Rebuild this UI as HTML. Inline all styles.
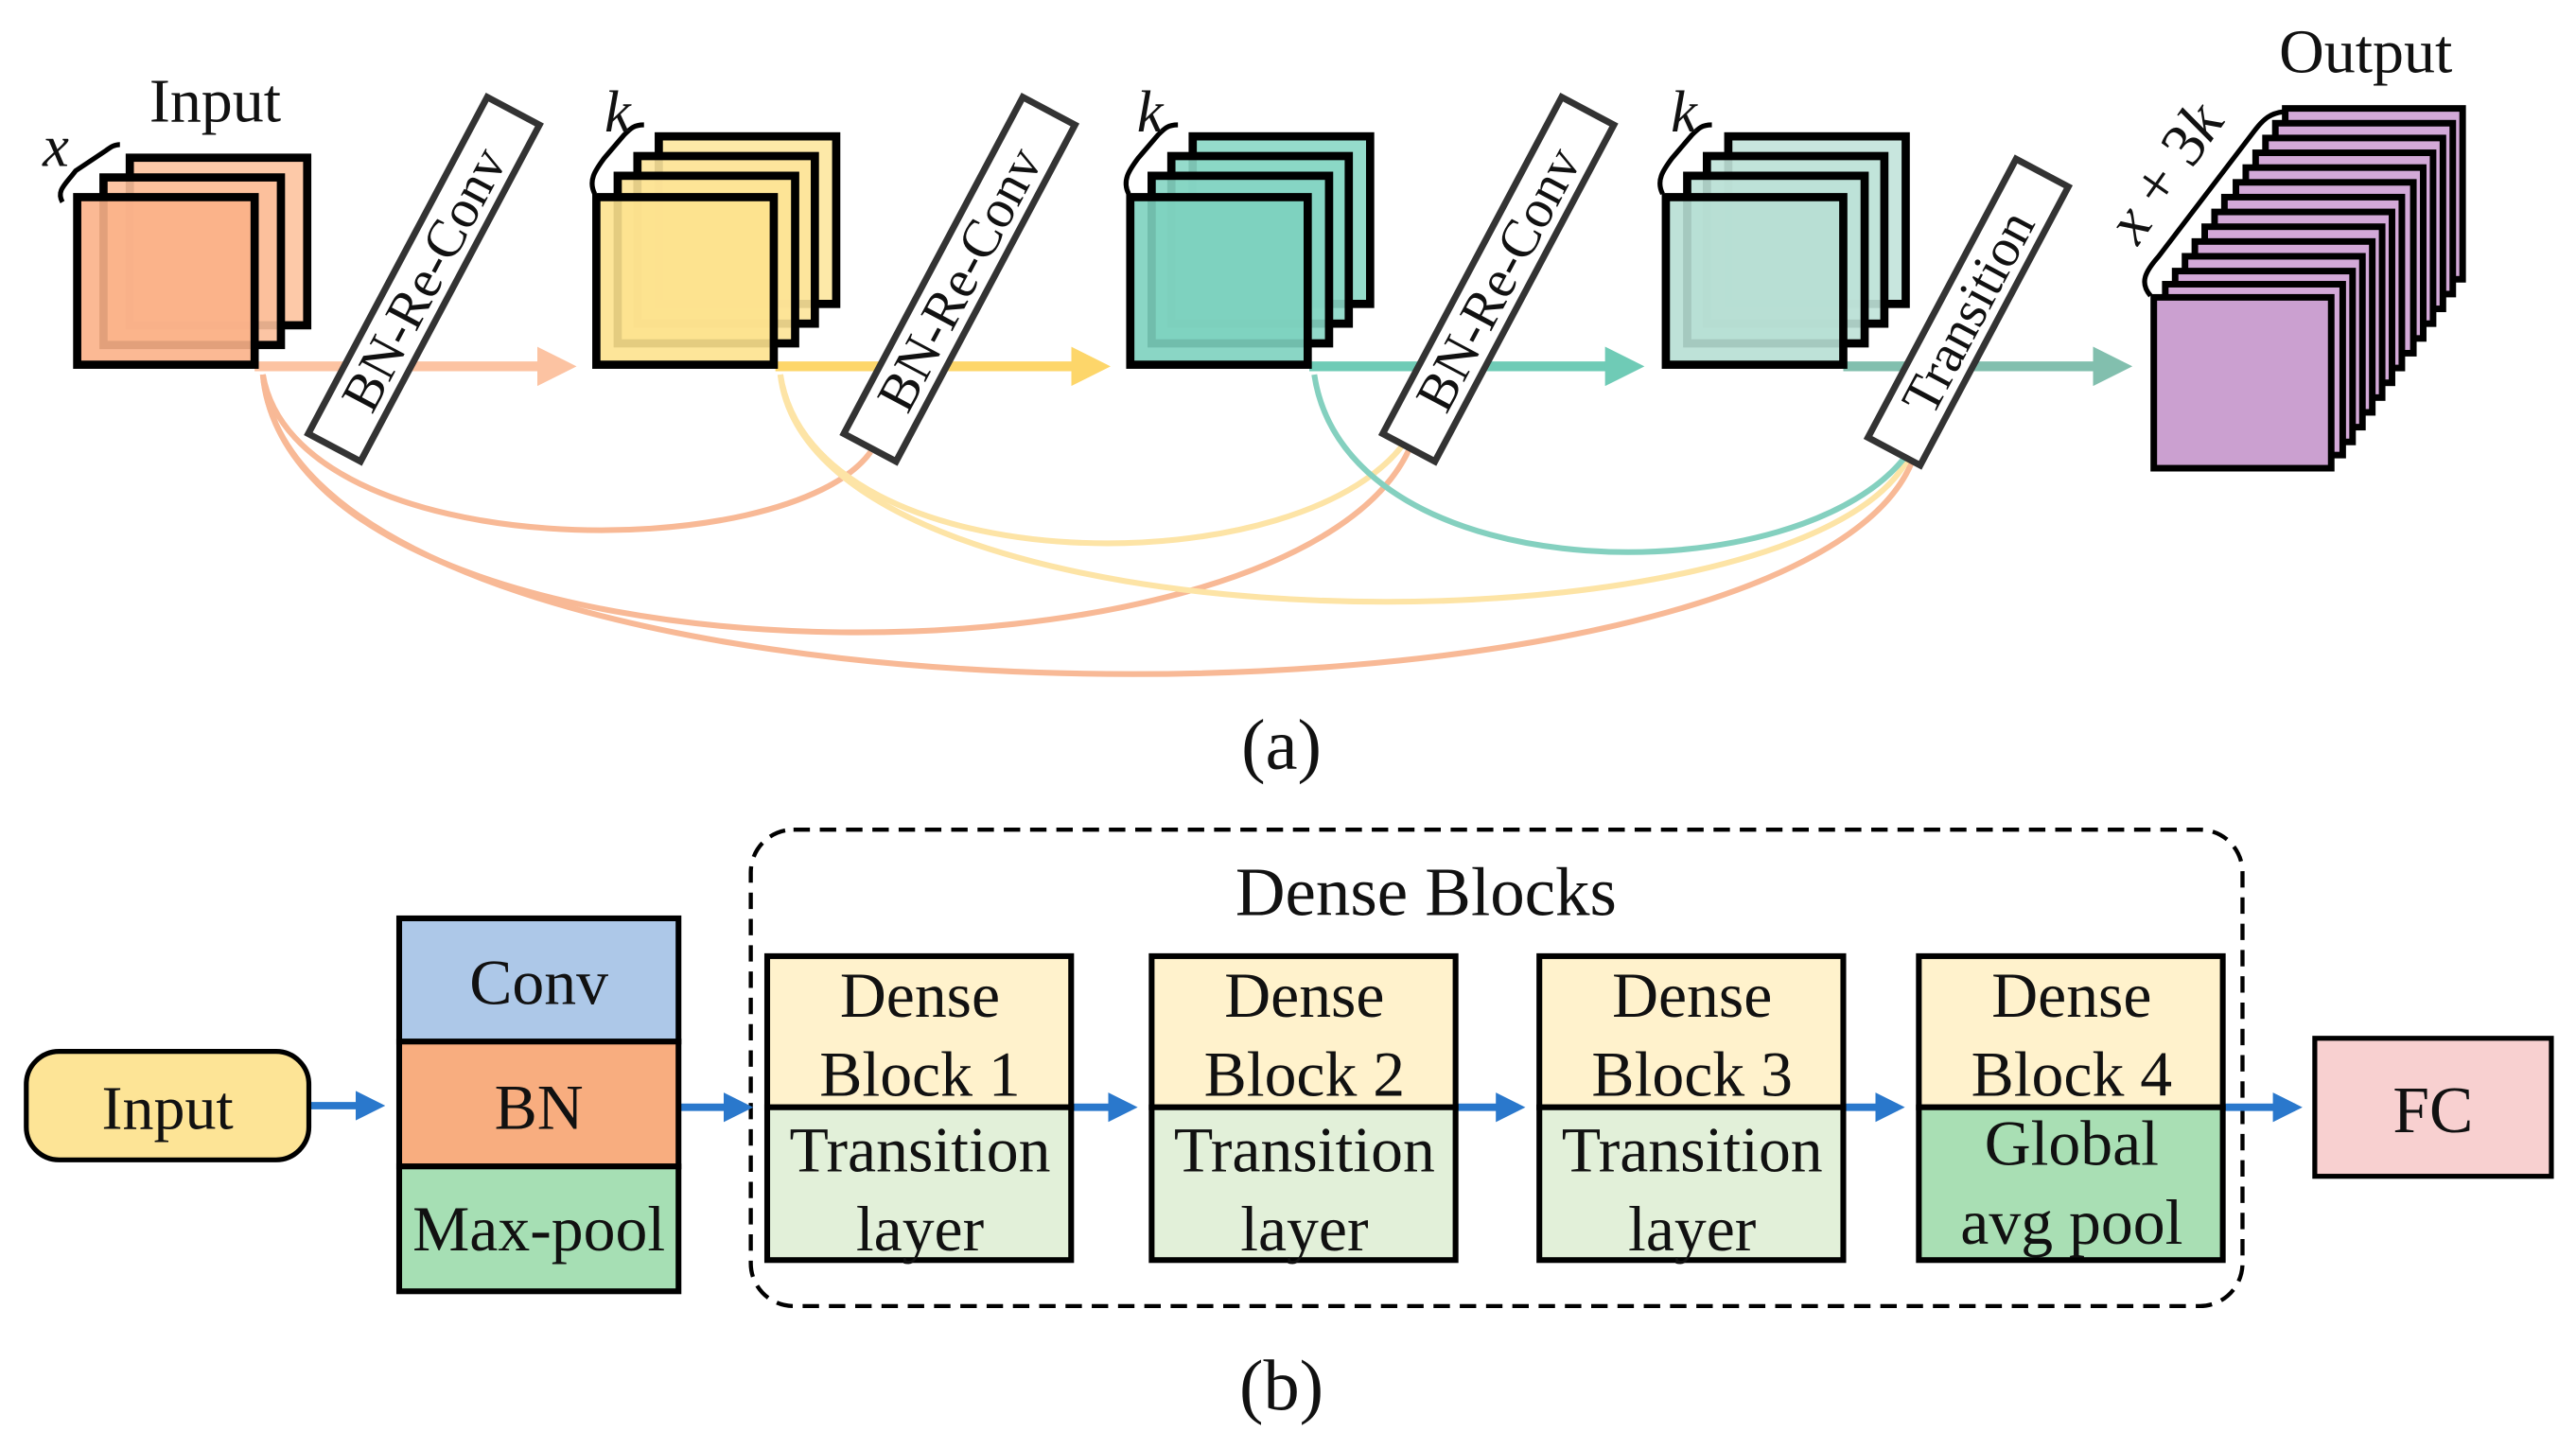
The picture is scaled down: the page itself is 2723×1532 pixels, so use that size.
<!DOCTYPE html>
<html><head><meta charset="utf-8"><style>html,body{margin:0;padding:0;background:#fff;}svg{display:block;}text{font-family:"Liberation Serif",serif;fill:#111;}</style></head>
<body>
<svg width="2723" height="1532" viewBox="0 0 1568 882" preserveAspectRatio="none" xmlns="http://www.w3.org/2000/svg">
<defs>
<marker id="ao" markerWidth="4" markerHeight="4" refX="3" refY="2" orient="auto" markerUnits="strokeWidth"><path d="M0,0 L4,2 L0,4z" fill="#fcc3a2"/></marker>
<marker id="ay" markerWidth="4" markerHeight="4" refX="3" refY="2" orient="auto" markerUnits="strokeWidth"><path d="M0,0 L4,2 L0,4z" fill="#fdd66a"/></marker>
<marker id="at" markerWidth="4" markerHeight="4" refX="3" refY="2" orient="auto" markerUnits="strokeWidth"><path d="M0,0 L4,2 L0,4z" fill="#6fcbb6"/></marker>
<marker id="ag" markerWidth="4" markerHeight="4" refX="3" refY="2" orient="auto" markerUnits="strokeWidth"><path d="M0,0 L4,2 L0,4z" fill="#82bfae"/></marker>
<marker id="ab" markerWidth="4" markerHeight="4" refX="3" refY="2" orient="auto" markerUnits="strokeWidth"><path d="M0,0 L4,2 L0,4z" fill="#2a78cc"/></marker>
</defs>

<g fill="none" stroke-width="3.5">
<path d="M160,228 C180,462 1100,462 1165,278" stroke="#f8b996"/>
<path d="M160,228 C180,430 800,430 860,268" stroke="#f8b996"/>
<path d="M160,228 C180,345 480,345 530,275" stroke="#f8b996"/>
<path d="M475,228 C495,403 1100,403 1162,278" stroke="#fde4a6"/>
<path d="M475,228 C495,358 800,358 858,265" stroke="#fde4a6"/>
<path d="M800,228 C820,363 1100,363 1162,275" stroke="#84d0bf"/>
</g>

<g stroke-width="6" fill="none">
<line x1="155" y1="223" x2="345" y2="223" stroke="#fcc3a2" marker-end="url(#ao)"/>
<line x1="472" y1="223" x2="670" y2="223" stroke="#fdd66a" marker-end="url(#ay)"/>
<line x1="797" y1="223" x2="995" y2="223" stroke="#6fcbb6" marker-end="url(#at)"/>
<line x1="1122" y1="223" x2="1292" y2="223" stroke="#82bfae" marker-end="url(#ag)"/>
</g>

<g stroke="#000" stroke-width="5">
<rect x="79" y="96" width="108" height="102" fill="#fdc9a8"/>
<rect x="63" y="108" width="108" height="102" fill="#fcbf9a" fill-opacity="0.9"/>
<rect x="47" y="120" width="108" height="102" fill="#fbb188" fill-opacity="0.9"/>

<rect x="401" y="83" width="108" height="102" fill="#fde9a8"/>
<rect x="388" y="95" width="108" height="102" fill="#fde49a" fill-opacity="0.9"/>
<rect x="376" y="107" width="108" height="102" fill="#fde396" fill-opacity="0.9"/>
<rect x="363" y="120" width="108" height="102" fill="#fde28e" fill-opacity="0.9"/>

<rect x="726" y="83" width="108" height="102" fill="#95dccb"/>
<rect x="713" y="95" width="108" height="102" fill="#8ad7c5" fill-opacity="0.9"/>
<rect x="701" y="107" width="108" height="102" fill="#85d5c3" fill-opacity="0.9"/>
<rect x="688" y="120" width="108" height="102" fill="#7dd2bf" fill-opacity="0.9"/>

<rect x="1052" y="83" width="108" height="102" fill="#c8e6de"/>
<rect x="1039" y="95" width="108" height="102" fill="#c0e3d9" fill-opacity="0.9"/>
<rect x="1027" y="107" width="108" height="102" fill="#bce1d7" fill-opacity="0.9"/>
<rect x="1014" y="120" width="108" height="102" fill="#b7dfd4" fill-opacity="0.9"/>
</g>
<g stroke="#000" stroke-width="4" fill="#d3a9d8">
<rect x="1391" y="66" width="108" height="104"/>
<rect x="1385" y="75" width="108" height="104"/>
<rect x="1379" y="84" width="108" height="104"/>
<rect x="1373" y="93" width="108" height="104"/>
<rect x="1367" y="102" width="108" height="104"/>
<rect x="1361" y="111" width="108" height="104"/>
<rect x="1354" y="120" width="108" height="104"/>
<rect x="1348" y="129" width="108" height="104"/>
<rect x="1342" y="138" width="108" height="104"/>
<rect x="1336" y="147" width="108" height="104"/>
<rect x="1330" y="156" width="108" height="104"/>
<rect x="1324" y="165" width="108" height="104"/>
<rect x="1318" y="173" width="108" height="104"/>
<rect x="1311" y="181" width="108" height="104" fill="#cba0d0"/>
</g>

<g fill="none" stroke="#000" stroke-width="3">
<path d="M38,123 C34,116 40,112 46,104 L64,92 C68,89 70,88 73,88"/>
<path d="M362,118 C358,110 362,104 368,96 L380,82 C384,78 386,76 392,76"/>
<path d="M687,118 C683,110 687,104 693,96 L705,82 C709,78 711,76 717,76"/>
<path d="M1012,118 C1008,110 1012,104 1018,96 L1030,82 C1034,78 1036,76 1042,76"/>
<path d="M1309,180 C1302,172 1306,165 1314,156 L1372,80 C1378,72 1382,69 1390,68"/>
</g>

<text x="131" y="74" font-size="38" text-anchor="middle">Input</text>
<text x="26" y="101" font-size="36" font-style="italic">x</text>
<text x="368" y="80" font-size="36" font-style="italic">k</text>
<text x="692" y="80" font-size="36" font-style="italic">k</text>
<text x="1017" y="80" font-size="36" font-style="italic">k</text>
<text x="1440" y="44" font-size="38" text-anchor="middle">Output</text>
<text transform="translate(1328,112) rotate(-55)" font-size="38" text-anchor="middle"><tspan font-style="italic">x</tspan> + 3<tspan font-style="italic">k</tspan></text>

<g transform="translate(258,170) rotate(-62)"><rect x="-116" y="-18" width="232" height="36" fill="#fff" stroke="#333" stroke-width="4"/><text x="0" y="11" font-size="33" text-anchor="middle">BN-Re-Conv</text></g>
<g transform="translate(584,170) rotate(-62)"><rect x="-116" y="-18" width="232" height="36" fill="#fff" stroke="#333" stroke-width="4"/><text x="0" y="11" font-size="33" text-anchor="middle">BN-Re-Conv</text></g>
<g transform="translate(912,170) rotate(-62)"><rect x="-116" y="-18" width="232" height="36" fill="#fff" stroke="#333" stroke-width="4"/><text x="0" y="11" font-size="33" text-anchor="middle">BN-Re-Conv</text></g>
<g transform="translate(1198,190) rotate(-62)"><rect x="-96" y="-18" width="192" height="36" fill="#fff" stroke="#333" stroke-width="4"/><text x="0" y="11" font-size="33" text-anchor="middle">Transition</text></g>

<text x="780" y="468" font-size="44" text-anchor="middle">(a)</text>

<rect x="457" y="505" width="908" height="290" rx="26" fill="none" stroke="#000" stroke-width="2.5" stroke-dasharray="10,6"/>
<text x="868" y="557" font-size="42" text-anchor="middle">Dense Blocks</text>

<g stroke-width="4.5" fill="none">
<line x1="188" y1="673" x2="230" y2="673" stroke="#2a78cc" marker-end="url(#ab)"/>
<line x1="413" y1="674" x2="454" y2="674" stroke="#2a78cc" marker-end="url(#ab)"/>
<line x1="652" y1="674" x2="688" y2="674" stroke="#2a78cc" marker-end="url(#ab)"/>
<line x1="886" y1="674" x2="924" y2="674" stroke="#2a78cc" marker-end="url(#ab)"/>
<line x1="1122" y1="674" x2="1155" y2="674" stroke="#2a78cc" marker-end="url(#ab)"/>
<line x1="1353" y1="674" x2="1397" y2="674" stroke="#2a78cc" marker-end="url(#ab)"/>
</g>

<rect x="16" y="640" width="172" height="66" rx="20" fill="#fde496" stroke="#000" stroke-width="3"/>
<text x="102" y="687" font-size="38" text-anchor="middle">Input</text>

<g stroke="#000" stroke-width="3.5">
<rect x="243" y="559" width="170" height="75" fill="#adc8e8"/>
<rect x="243" y="634" width="170" height="76" fill="#f8ad7f"/>
<rect x="243" y="710" width="170" height="76" fill="#a6dfb4"/>
</g>
<text x="328" y="611" font-size="39" text-anchor="middle">Conv</text>
<text x="328" y="687" font-size="39" text-anchor="middle">BN</text>
<text x="328" y="761" font-size="39" text-anchor="middle">Max-pool</text>

<g stroke="#000" stroke-width="3.5">
<rect x="467" y="582" width="185" height="92" fill="#fff2cc"/><rect x="467" y="674" width="185" height="93" fill="#e2f0d9"/>
<rect x="701" y="582" width="185" height="92" fill="#fff2cc"/><rect x="701" y="674" width="185" height="93" fill="#e2f0d9"/>
<rect x="937" y="582" width="185" height="92" fill="#fff2cc"/><rect x="937" y="674" width="185" height="93" fill="#e2f0d9"/>
<rect x="1168" y="582" width="185" height="92" fill="#fff2cc"/><rect x="1168" y="674" width="185" height="93" fill="#a9dfb4"/>
</g>
<g font-size="39" text-anchor="middle">
<text x="560" y="619">Dense</text><text x="560" y="667">Block 1</text><text x="560" y="713">Transition</text><text x="560" y="761">layer</text>
<text x="794" y="619">Dense</text><text x="794" y="667">Block 2</text><text x="794" y="713">Transition</text><text x="794" y="761">layer</text>
<text x="1030" y="619">Dense</text><text x="1030" y="667">Block 3</text><text x="1030" y="713">Transition</text><text x="1030" y="761">layer</text>
<text x="1261" y="619">Dense</text><text x="1261" y="667">Block 4</text><text x="1261" y="709">Global</text><text x="1261" y="757">avg pool</text>
</g>

<rect x="1409" y="632" width="144" height="84" fill="#f8d0d0" stroke="#000" stroke-width="3"/>
<text x="1481" y="689" font-size="40" text-anchor="middle">FC</text>

<text x="780" y="858" font-size="44" text-anchor="middle">(b)</text>
</svg>
</body></html>
